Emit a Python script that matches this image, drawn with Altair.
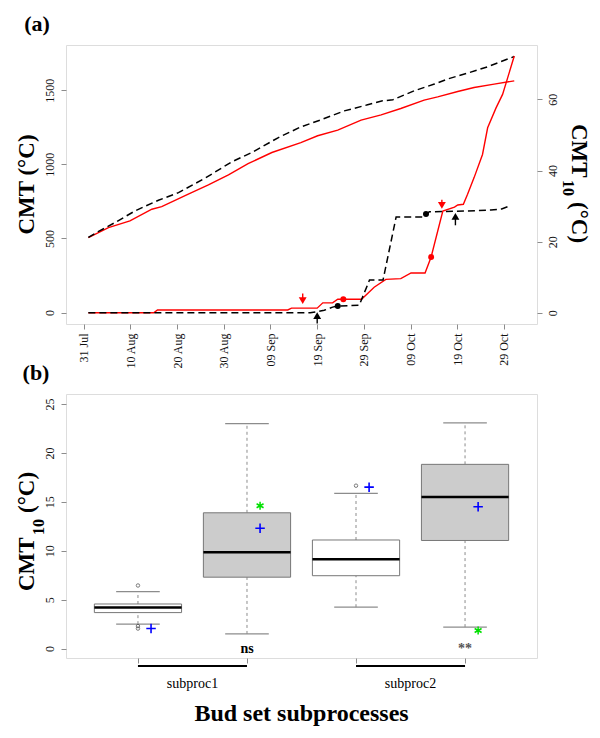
import altair as alt
import pandas as pd

FONT = "Liberation Serif"
GREY = "#8c8c8c"
LBL = "#111111"

# ---------------- panel (a) : days after 31 Jul ----------------
date_ticks = [0, 10, 20, 30, 40, 50, 60, 70, 80, 90]
date_labels = ["31 Jul", "10 Aug", "20 Aug", "30 Aug", "09 Sep",
               "19 Sep", "29 Sep", "09 Oct", "19 Oct", "29 Oct"]

cmt_black_day = [1, 3.1, 6.7, 11, 16, 20.3, 26, 31.7, 36, 41.7, 46.5, 50.8, 55.8,
                 60.8, 64, 66.2, 70.8, 75.1, 77.9, 82.2, 86.5, 92.2]
cmt_black_val = [507, 546, 607, 686, 758, 809, 907, 1017, 1080, 1181, 1253, 1301, 1361,
                 1402, 1429, 1436, 1497, 1542, 1576, 1616, 1659, 1728]
cmt_red_day = [1, 5.3, 9.9, 14.6, 16.7, 22.4, 26.7, 31, 35.2, 40.3, 46.5, 50.1, 54.4,
               59.4, 63.7, 67.9, 72.9, 75.8, 80.1, 83.6, 87.9, 92.2]
cmt_red_val = [505, 573, 618, 697, 715, 799, 861, 929, 1005, 1080, 1147, 1193, 1231,
               1299, 1334, 1377, 1434, 1456, 1492, 1519, 1542, 1564]
cmt10_black_day = [1, 48.5, 51.5, 53.3, 54.4, 59, 61.2, 64.1, 66.9, 72.9, 74, 81.5,
                   87.2, 89.5, 91.1]
cmt10_black_val = [0, 0, 0.7, 1.6, 1.9, 2.1, 9.2, 9.2, 26.9, 26.9, 28.4, 28.6,
                   28.9, 29.2, 30.0]
cmt10_red_day = [1, 15, 15.8, 43.7, 44.5, 50, 51.2, 53.3, 54.4, 59.5, 62.2, 64.7,
                 67.9, 70.1, 73.1, 74.4, 76.9, 79.4, 80.1, 81.3, 82.2, 83.6, 85.4,
                 86.5, 88.3, 89.7, 90.8, 92.2]
cmt10_red_val = [0, 0, 0.8, 0.8, 1.3, 1.3, 2.8, 2.8, 3.8, 3.8, 7.2, 9.4,
                 9.6, 11.2, 11.2, 15.7, 28.6, 29.7, 30.3, 30.5, 33.3, 38.0, 44.5,
                 52.0, 57.6, 61.4, 66.1, 72.2]

dot_day = [54.4, 73.3, 55.6, 74.4]
dot_val = [1.9, 27.8, 3.8, 15.7]
dot_col = ["black", "black", "#ff0000", "#ff0000"]

arrow_day = [46.9, 76.7, 50.0, 79.6]
arrow_tail = [5.4, 31.8, -3.0, 24.6]
arrow_tip = [2.4, 29.2, 0.2, 28.1]
arrow_col = ["#ff0000", "#ff0000", "black", "black"]
arrow_dir = ["down", "down", "up", "up"]

# ---------------- panel (b) ----------------
box_pos = [1, 2, 3, 4]
box_q1 = [3.68, 7.3, 7.45, 11.05]
box_med = [4.2, 9.86, 9.14, 15.49]
box_q3 = [4.56, 13.88, 11.1, 18.83]
box_lo = [2.5, 1.5, 4.23, 2.2]
box_hi = [5.83, 23.0, 15.87, 23.06]
box_fill = ["white", "#cccccc", "white", "#cccccc"]
outlier_pos = [1, 1, 1, 3]
outlier_val = [6.45, 2.3, 2.05, 16.65]
mean_val = [2.05, 12.3, 16.5, 14.5]
star_pos = [2, 4]
star_val = [14.6, 1.85]
sig_pos = [2, 4]
sig_text = ["ns", "**"]
sig_col = ["black", "#555555"]
group_start = [1, 3]
group_end = [2, 4]
group_labels = ["subproc1", "subproc2"]

W = 471
HA = 279
HB = 264

# ---------------- build panel (a) ----------------
X_DOM_A = [-3.79, 97.07]
YL_DOM = [-77.6, 1805.8]
YR_DOM = [-3.15, 75.28]

label_js = "[" + ",".join("'%s'" % s for s in date_labels) + "][round(datum.value/10)]"
xaxis_a = alt.Axis(values=date_ticks, labelExpr=label_js, labelAngle=270,
                   labelAlign="right", labelBaseline="middle", tickSize=5,
                   tickColor=GREY, domain=False, grid=False, title=None,
                   labelFont=FONT, labelFontSize=12, labelColor=LBL,
                   labelPadding=4, labelOverlap=False)
left_axis = alt.Axis(orient="left", values=[0, 500, 1000, 1500], format="d",
                     labelAngle=270,
                     labelAlign="center", labelBaseline="bottom", tickSize=5,
                     tickColor=GREY, domain=False, grid=False, title=None,
                     labelFont=FONT, labelFontSize=12, labelColor=LBL,
                     labelPadding=5, labelOverlap=False)
right_axis = alt.Axis(orient="right", values=[0, 20, 40, 60], format="d",
                      labelAngle=270,
                      labelAlign="center", labelBaseline="top", tickSize=5,
                      tickColor=GREY, domain=False, grid=False, title=None,
                      labelFont=FONT, labelFontSize=12, labelColor=LBL,
                      labelPadding=5, labelOverlap=False)


def xa():
    return alt.X("day:Q", scale=alt.Scale(domain=X_DOM_A, nice=False, zero=False),
                 axis=xaxis_a)


def ya(field, dom, axis=None):
    kw = dict(scale=alt.Scale(domain=dom, nice=False, zero=False))
    kw["axis"] = axis
    return alt.Y(field, **kw)


def line_layer(days, vals, color, dom, axis, dashed):
    df = pd.DataFrame({"day": days, "val": vals})
    mk = dict(color=color, strokeWidth=1.4, clip=True)
    if dashed:
        mk["strokeDash"] = [7, 4]
        mk["strokeWidth"] = 1.5
    return alt.Chart(df).mark_line(**mk).encode(x=xa(), y=ya("val:Q", dom, axis))


l_red_cmt = line_layer(cmt_red_day, cmt_red_val, "#ff0000", YL_DOM, None, False)
l_blk_cmt = line_layer(cmt_black_day, cmt_black_val, "black", YL_DOM, left_axis, True)
l_red_10 = line_layer(cmt10_red_day, cmt10_red_val, "#ff0000", YR_DOM, None, False)
l_blk_10 = line_layer(cmt10_black_day, cmt10_black_val, "black", YR_DOM, right_axis, True)

dots = alt.Chart(pd.DataFrame({"day": dot_day, "val": dot_val, "col": dot_col})).mark_point(
    filled=True, size=36, opacity=1, shape="circle").encode(
    x=xa(), y=ya("val:Q", YR_DOM), color=alt.Color("col:N", scale=None))

arr_df = pd.DataFrame({"day": arrow_day, "tail": arrow_tail, "tip": arrow_tip,
                       "col": arrow_col, "dir": arrow_dir})
arr_df["head"] = [t + 1.0 if d == "down" else t - 1.0 for t, d in zip(arrow_tip, arrow_dir)]
arrow_shaft = alt.Chart(arr_df).mark_rule(strokeWidth=1.4).encode(
    x=xa(), y=ya("tail:Q", YR_DOM), y2="head:Q", color=alt.Color("col:N", scale=None))
arrow_head = alt.Chart(arr_df).mark_point(filled=True, size=62, opacity=1).encode(
    x=xa(), y=ya("head:Q", YR_DOM), color=alt.Color("col:N", scale=None),
    shape=alt.Shape("dir:N", scale=alt.Scale(domain=["down", "up"],
                                             range=["triangle-down", "triangle-up"]),
                    legend=None))

one = alt.Data(values=[{"a": 1}])


def txt(text, x, y, size, angle=0, align="center", bold=True, color="black"):
    mk = dict(text=text, font=FONT, fontSize=size, align=align, baseline="middle",
              color=color)
    if angle:
        mk["angle"] = angle
    if bold:
        mk["fontWeight"] = "bold"
    return alt.Chart(one).mark_text(**mk).encode(x=alt.value(x), y=alt.value(y))


anchor_a = alt.Chart(one).mark_point(opacity=0, size=1, filled=True).encode(
    x=alt.value(-56.5), y=alt.value(-35.5))

top = alt.layer(
    l_red_cmt, l_blk_cmt, l_red_10, l_blk_10, arrow_shaft, arrow_head, dots,
    txt("CMT (°C)", -39, HA / 2, 23, angle=270),
    txt("CMT", 513, 79, 23, angle=90, align="left"),
    txt("10", 501.5, 135, 16, angle=90, align="left"),
    txt("(°C)", 513, 157, 23, angle=90, align="left"),
    txt("(a)", -29, -21, 22),
    anchor_a,
).resolve_scale(y="independent").properties(width=W, height=HA)

# ---------------- build panel (b) ----------------
X_DOM_B = [0.34, 4.66]
Y_DOM_B = [-0.96, 26.02]
xaxis_b = alt.Axis(values=[1, 2, 3, 4], labels=False, tickSize=5, tickColor=GREY,
                   domain=False, grid=False, title=None)
yaxis_b = alt.Axis(orient="left", values=[0, 5, 10, 15, 20, 25], format="d",
                   labelAngle=270,
                   labelAlign="center", labelBaseline="bottom", tickSize=5,
                   tickColor=GREY, domain=False, grid=False, title=None,
                   labelFont=FONT, labelFontSize=12, labelColor=LBL,
                   labelPadding=5, labelOverlap=False)


def xb(field):
    return alt.X(field, scale=alt.Scale(domain=X_DOM_B, nice=False, zero=False),
                 axis=xaxis_b)


def yb(field):
    return alt.Y(field, scale=alt.Scale(domain=Y_DOM_B, nice=False, zero=False),
                 axis=yaxis_b)


bdf = pd.DataFrame({"pos": box_pos, "q1": box_q1, "med": box_med, "q3": box_q3,
                    "lo": box_lo, "hi": box_hi, "fill": box_fill})
bdf["x0"] = bdf["pos"] - 0.4
bdf["x1"] = bdf["pos"] + 0.4
bdf["c0"] = bdf["pos"] - 0.2
bdf["c1"] = bdf["pos"] + 0.2

whisk_up = alt.Chart(bdf).mark_rule(color=GREY, strokeDash=[3, 3], strokeWidth=1).encode(
    x=xb("pos:Q"), y=yb("q3:Q"), y2="hi:Q")
whisk_dn = alt.Chart(bdf).mark_rule(color=GREY, strokeDash=[3, 3], strokeWidth=1).encode(
    x=xb("pos:Q"), y=yb("lo:Q"), y2="q1:Q")
cap_up = alt.Chart(bdf).mark_rule(color=GREY, strokeWidth=1.2).encode(
    x=xb("c0:Q"), x2="c1:Q", y=yb("hi:Q"))
cap_dn = alt.Chart(bdf).mark_rule(color=GREY, strokeWidth=1.2).encode(
    x=xb("c0:Q"), x2="c1:Q", y=yb("lo:Q"))
boxes = alt.Chart(bdf).mark_rect(stroke="#777777", strokeWidth=1).encode(
    x=xb("x0:Q"), x2="x1:Q", y=yb("q1:Q"), y2="q3:Q",
    fill=alt.Fill("fill:N", scale=None))
medians = alt.Chart(bdf).mark_rule(color="black", strokeWidth=2.5).encode(
    x=xb("x0:Q"), x2="x1:Q", y=yb("med:Q"))

outliers = alt.Chart(pd.DataFrame({"pos": outlier_pos, "val": outlier_val})).mark_point(
    shape="circle", size=12, color="#444444", filled=False, strokeWidth=1).encode(
    x=xb("pos:Q"), y=yb("val:Q"))

mdf = pd.DataFrame({"pos": box_pos, "val": mean_val})
mdf["xp"] = mdf["pos"] + 0.12
means = alt.Chart(mdf).mark_point(shape="M-1,0L1,0M0,-1L0,1", size=90, color="#0000ff",
                                  filled=False, strokeWidth=1.6, opacity=1).encode(
    x=xb("xp:Q"), y=yb("val:Q"))

sdf = pd.DataFrame({"pos": star_pos, "val": star_val})
sdf["xp"] = sdf["pos"] + 0.12
stars = alt.Chart(sdf).mark_point(
    shape="M0,-1L0,1M-0.87,-0.5L0.87,0.5M-0.87,0.5L0.87,-0.5", size=64,
    color="#00e000", filled=False, strokeWidth=1.5, opacity=1).encode(
    x=xb("xp:Q"), y=yb("val:Q"))

sig = alt.Chart(pd.DataFrame({"pos": sig_pos, "t": sig_text, "c": sig_col,
                              "val": [0, 0]})).mark_text(
    font=FONT, fontWeight="bold", fontSize=14, baseline="middle").encode(
    x=xb("pos:Q"), y=yb("val:Q"), text="t:N", color=alt.Color("c:N", scale=None))

gdf = pd.DataFrame({"s": group_start, "e": group_end, "label": group_labels})
gdf["mid"] = (gdf["s"] + gdf["e"]) / 2
brackets = alt.Chart(gdf).mark_rule(color="black", strokeWidth=2).encode(
    x=xb("s:Q"), x2="e:Q", y=alt.value(HB + 8))
glabels = alt.Chart(gdf).mark_text(font=FONT, fontSize=14, baseline="middle").encode(
    x=xb("mid:Q"), y=alt.value(HB + 26), text="label:N")

bottom = alt.layer(
    whisk_up, whisk_dn, cap_up, cap_dn, boxes, medians, outliers, means, stars, sig,
    brackets, glabels,
    txt("Bud set subprocesses", W / 2, HB + 56, 24),
    txt("CMT", -39, 197, 23, angle=270, align="left"),
    txt("10", -27, 141, 16, angle=270, align="left"),
    txt("(°C)", -39, 119, 23, angle=270, align="left"),
    txt("(b)", -30, -21, 22),
).properties(width=W, height=HB)

chart = alt.vconcat(top, bottom, spacing=70, bounds="flush").configure_view(
    stroke="#8c8c8c", strokeWidth=1).configure(background="white").properties(padding=0)

chart.save("out.html", embed_options={"renderer": "svg", "actions": False})
